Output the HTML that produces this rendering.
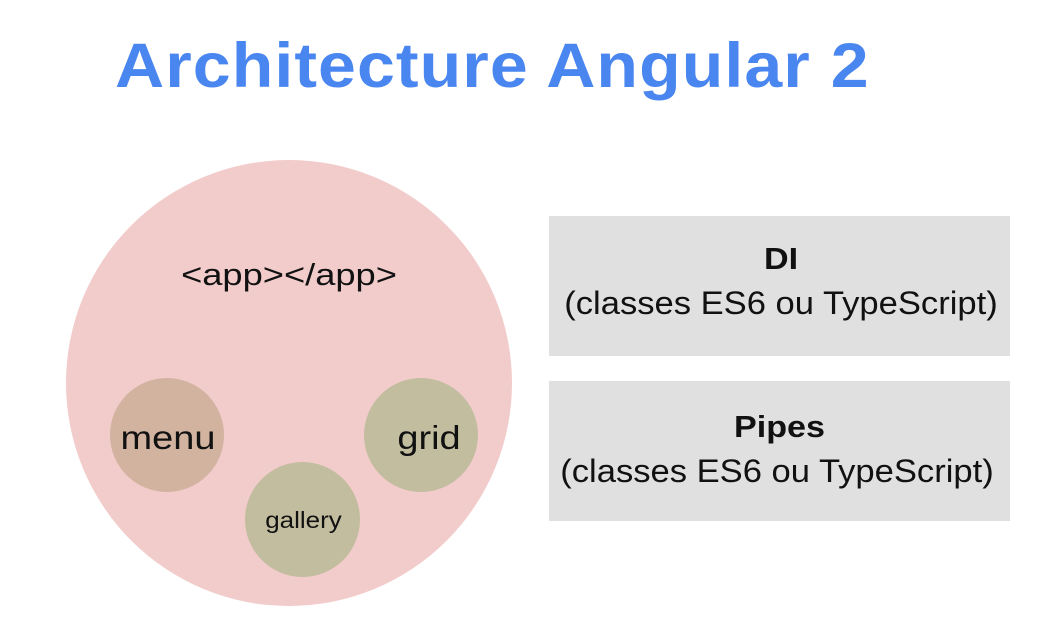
<!DOCTYPE html>
<html><head><meta charset="utf-8"><style>
body{margin:0;width:1041px;height:629px;background:#fff;position:relative;overflow:hidden;font-family:"Liberation Sans","DejaVu Sans",sans-serif;}
.t{position:absolute;white-space:nowrap;transform-origin:center;}
.c{position:absolute;border-radius:50%;}
</style></head><body>
<div class="t" style="left:115px;top:30px;font-size:63px;color:#4a86f0;font-weight:bold;letter-spacing:1px;transform-origin:0 0;transform:scaleX(1.08)">Architecture Angular 2</div>
<div class="c" style="left:66px;top:160px;width:446px;height:446px;background:#f2cbcb"></div>
<div class="t" style="left:89px;width:400px;text-align:center;top:257px;font-size:31px;color:#111;transform:scaleX(1.17)">&lt;app&gt;&lt;/app&gt;</div>
<div class="c" style="left:110px;top:378px;width:114px;height:114px;background:#d1b39f"></div>
<div class="t" style="left:111px;width:114px;text-align:center;top:419px;font-size:33px;color:#111;transform:scaleX(1.15)">menu</div>
<div class="c" style="left:364px;top:378px;width:114px;height:114px;background:#c2bd9f"></div>
<div class="t" style="left:372px;width:114px;text-align:center;top:419px;font-size:33px;color:#111;transform:scaleX(1.15)">grid</div>
<div class="c" style="left:245px;top:462px;width:115px;height:115px;background:#c2bd9f"></div>
<div class="t" style="left:246px;width:115px;text-align:center;top:507px;font-size:23px;color:#111;transform:scaleX(1.13)">gallery</div>
<div style="position:absolute;left:549px;top:216px;width:461px;height:140px;background:#e0e0e0"></div>
<div class="t" style="left:549px;width:464px;text-align:center;top:241px;font-size:31px;font-weight:bold;color:#111;transform:scaleX(1.1)">DI</div>
<div class="t" style="left:549px;width:464px;text-align:center;top:285px;font-size:32px;color:#111;transform:scaleX(1.08)">(classes ES6 ou TypeScript)</div>
<div style="position:absolute;left:549px;top:381px;width:461px;height:140px;background:#e0e0e0"></div>
<div class="t" style="left:549px;width:461px;text-align:center;top:409px;font-size:31px;font-weight:bold;color:#111;transform:scaleX(1.1)">Pipes</div>
<div class="t" style="left:549px;width:456px;text-align:center;top:453px;font-size:32px;color:#111;transform:scaleX(1.08)">(classes ES6 ou TypeScript)</div>
</body></html>
